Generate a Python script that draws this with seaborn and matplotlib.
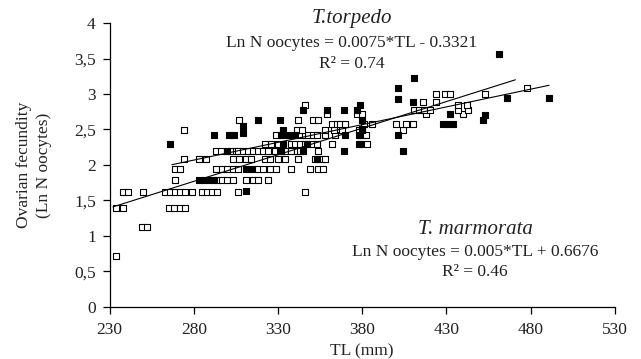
import numpy as np
import pandas as pd
import matplotlib
matplotlib.use("Agg")
import matplotlib.pyplot as plt
import seaborn as sns

# ---- data ----
open_tl = [234,
           249, 252,
           234, 238, 265, 268, 272, 275,
           238, 241, 250, 263, 266, 269, 272, 275, 279, 285, 288, 291, 294, 306, 346,
           269, 294, 297, 300, 303, 311, 315, 318, 324,
           269, 272, 293, 297, 300, 303, 306, 318, 321, 325, 329, 338, 349, 354, 357,
           274, 283, 287, 303, 307, 311, 314, 322, 325, 330, 334, 342, 352, 356, 358,
           293, 296, 302, 305, 306, 309, 312, 315, 318, 321, 324, 328, 331, 334, 338, 341, 343, 354,
           322, 326, 330, 338, 340, 343, 346, 350, 353, 362, 379, 383,
           329, 343, 346, 348, 351, 353, 358, 364, 379, 382,
           274, 341, 344, 358, 363, 368, 378, 380, 404,
           362, 365, 367, 370, 381, 386, 400, 406, 410,
           307, 342, 351, 354,
           359, 377, 380, 418, 440,
           411, 414, 417, 420, 437, 443,
           346, 437, 442,
           416, 424,
           424, 429, 432, 453,
           478]
open_ln = ([0.72] + [1.12] * 2 + [1.39] * 6 + [1.62] * 15 + [1.79] * 9 + [1.94] * 15
           + [2.08] * 15 + [2.20] * 18 + [2.30] * 12 + [2.42] * 10 + [2.49] * 9
           + [2.58] * 9 + [2.64] * 4 + [2.72] * 5 + [2.77] * 6 + [2.84] * 3
           + [2.89] * 2 + [3.00] * 4 + [3.08])

filled_tl = [266, 292, 301, 304, 309, 309, 318, 331, 333, 332, 336, 340, 333, 345, 347,
             345, 332, 300, 359, 369, 377, 369, 370, 378, 378, 379, 380, 380, 401, 401,
             410, 411, 401, 404, 428, 431, 432, 434, 453, 452, 461, 466, 491, 283, 286,
             289, 292, 311, 311, 314, 353]
filled_ln = [2.30, 2.42, 2.42, 2.42, 2.55, 2.45, 2.64, 2.64, 2.49, 2.42, 2.42, 2.42, 2.30, 2.77, 2.30,
             2.20, 2.20, 2.20, 2.77, 2.77, 2.77, 2.20, 2.42, 2.42, 2.30, 2.84, 2.51, 2.63, 3.08, 2.93,
             2.89, 3.22, 2.42, 2.20, 2.58, 2.58, 2.72, 2.58, 2.70, 2.63, 3.56, 2.94, 2.95, 1.79, 1.79,
             1.79, 1.79, 1.63, 1.94, 1.94, 2.08]

# regression equations shown on the chart and the TL span of each line
torpedo_coef = (0.0075, -0.3321)
torpedo_span = [232, 471]
marmorata_coef = (0.005, 0.6676)
marmorata_span = [267, 491]

x_ticks = [230, 280, 330, 380, 430, 480, 530]
y_ticks = [0, 0.5, 1, 1.5, 2, 2.5, 3, 3.5, 4]
y_tick_labels = ["0", "0,5", "1", "1,5", "2", "2,5", "3", "3,5", "4"]

# ---- figure ----
sns.set_theme(style="white")
plt.rcParams["font.family"] = ["Liberation Serif", "DejaVu Serif"]

fig = plt.figure(figsize=(6.41, 3.59), dpi=100)
ax = fig.add_axes([0.171, 0.1457, 0.788, 0.79])

open_df = pd.DataFrame({"TL": open_tl, "LnN": open_ln})
filled_df = pd.DataFrame({"TL": filled_tl, "LnN": filled_ln})

sns.scatterplot(data=open_df, x="TL", y="LnN", marker="s", s=20,
                facecolor="white", edgecolor="black", linewidth=0.8, ax=ax, zorder=3)
sns.scatterplot(data=filled_df, x="TL", y="LnN", marker="s", s=20,
                color="black", edgecolor="black", linewidth=0.8, ax=ax, zorder=3)

for coef, span in [(torpedo_coef, torpedo_span), (marmorata_coef, marmorata_span)]:
    xs = np.array(span, dtype=float)
    ys = coef[0] * xs + coef[1]
    sns.lineplot(x=xs, y=ys, color="black", linewidth=0.8, ax=ax, zorder=4)

ax.set_xlim(230, 530)
ax.set_ylim(0, 4)
ax.set_xticks(x_ticks)
ax.set_xticklabels([str(v) for v in x_ticks])
ax.set_yticks(y_ticks)
ax.set_yticklabels(y_tick_labels)
ax.tick_params(axis="both", which="major", direction="out", length=5, width=0.9,
               color="black", labelsize=12.5, labelcolor="#222222", bottom=True, left=True)
ax.tick_params(axis="y", pad=5)
ax.tick_params(axis="x", pad=6)
for side in ["top", "right"]:
    ax.spines[side].set_visible(False)
for side in ["left", "bottom"]:
    ax.spines[side].set_color("black")
    ax.spines[side].set_linewidth(0.9)

ax.set_xlabel("TL (mm)", fontsize=12.5, color="#222222", labelpad=4)
ax.set_ylabel("Ovarian fecundity\n(Ln N oocytes)", fontsize=12.5, color="#222222",
              labelpad=16, linespacing=1.35)

# annotations (pixel positions converted to figure fractions)
def fx(px):
    return px / 641.0

def fy(py):
    return 1 - py / 359.0

fig.text(fx(352), fy(19), "T.torpedo", style="italic", fontsize=15,
         ha="center", va="center", color="#222222")
fig.text(fx(352), fy(43), "Ln N oocytes = 0.0075*TL - 0.3321", fontsize=12.5,
         ha="center", va="center", color="#222222")
fig.text(fx(352), fy(64), "R² = 0.74", fontsize=12.5,
         ha="center", va="center", color="#222222")

fig.text(fx(475), fy(229), "T. marmorata", style="italic", fontsize=15,
         ha="center", va="center", color="#222222")
fig.text(fx(475), fy(252), "Ln N oocytes = 0.005*TL + 0.6676", fontsize=12.5,
         ha="center", va="center", color="#222222")
fig.text(fx(475), fy(272), "R² = 0.46", fontsize=12.5,
         ha="center", va="center", color="#222222")

fig.savefig("out.png", dpi=100)
